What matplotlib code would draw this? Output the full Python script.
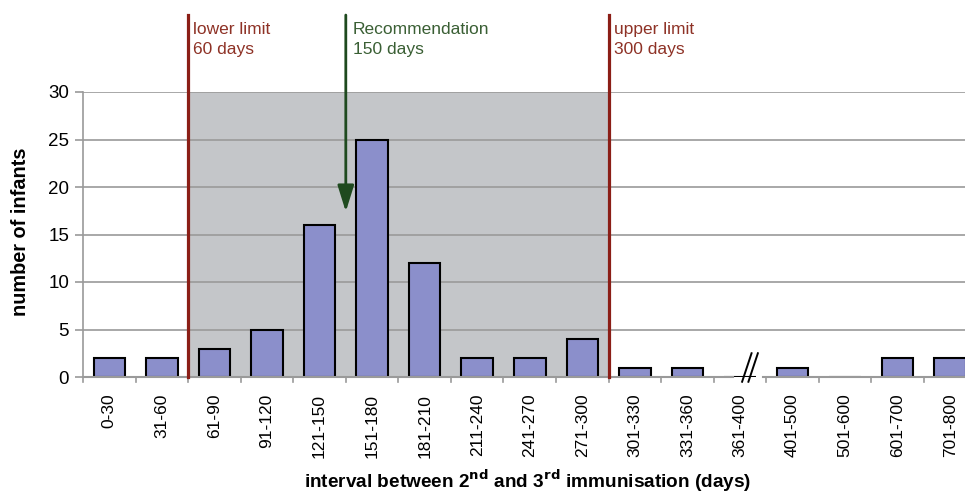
import matplotlib.pyplot as plt

# categories and counts
categories = ['0-30', '31-60', '61-90', '91-120', '121-150', '151-180', '181-210',
              '211-240', '241-270', '271-300', '301-330', '331-360', '361-400',
              '401-500', '501-600', '601-700', '701-800']
infants = [2, 2, 3, 5, 16, 25, 12, 2, 2, 4, 1, 1, 0, 1, 0, 2, 2]
yticks = [0, 5, 10, 15, 20, 25, 30]

red = '#8b1e16'
red_txt = '#8e3226'
green = '#1f4a1f'
green_txt = '#3a5f34'
grey = '#9a9a9a'

plt.rcParams['font.family'] = ['Liberation Sans', 'DejaVu Sans']

fig = plt.figure(figsize=(9.65, 4.97), dpi=100)
ax = fig.add_axes([83 / 965, 1 - 377 / 497, 882 / 965, 285 / 497])
x = list(range(len(categories)))
ax.set_xlim(-0.5, -0.5 + 882 / 52.56)
ax.set_ylim(0, 30)

# shaded recommended window and grid
ax.axvspan(1.5, 9.5, color='#c4c6c9', zorder=0, lw=0)
for t in yticks[1:]:
    ax.axhline(t, color=grey, lw=1.2, zorder=0.5)

ax.bar(x, infants, width=0.6, color='#8b8fcb', edgecolor='black', lw=1.5, zorder=2)

# spines and ticks
for s in ['top', 'right', 'bottom']:
    ax.spines[s].set_visible(False)
ax.spines['left'].set_color(grey)
ax.spines['left'].set_linewidth(1.2)
ax.set_yticks(yticks)
ax.set_yticklabels([str(t) for t in yticks], fontsize=13.5)
ax.set_xticks(x)
ax.set_xticklabels(categories, rotation=90, fontsize=12.5)
ax.tick_params(axis='x', length=0, pad=12)
ax.tick_params(axis='y', length=6, color=grey, width=1.2, pad=4)

# bottom axis line with break
ax.plot([-0.5, 11.87], [0, 0], color=grey, lw=1.5, clip_on=False, zorder=3)
ax.plot([12.44, 16.3], [0, 0], color=grey, lw=1.5, clip_on=False, zorder=3)
for b in [k + 0.5 for k in range(-1, 17)]:
    ax.plot([b, b], [0, -0.55], color=grey, lw=1.2, clip_on=False)
ax.plot([12.04, 12.22], [-0.5, 2.5], color='black', lw=1.4, clip_on=False, zorder=3)
ax.plot([12.16, 12.34], [-0.5, 2.5], color='black', lw=1.4, clip_on=False, zorder=3)

# limits and recommendation
top = 38.1
for xv in [1.5, 9.5]:
    ax.plot([xv, xv], [0, top], color=red, lw=2.3, clip_on=False, zorder=4)
ax.annotate('', xy=(4.5, 17.4), xytext=(4.5, top), annotation_clip=False,
            arrowprops=dict(arrowstyle='-|>,head_length=1.6,head_width=0.5',
                            color=green, lw=2, shrinkA=0, shrinkB=0))
ax.text(1.6, 37.4, 'lower limit\n60 days', color=red_txt, fontsize=12.5,
        va='top', ha='left', linespacing=1.45)
ax.text(4.63, 37.4, 'Recommendation\n150 days', color=green_txt, fontsize=12.5,
        va='top', ha='left', linespacing=1.45)
ax.text(9.6, 37.4, 'upper limit\n300 days', color=red_txt, fontsize=12.5,
        va='top', ha='left', linespacing=1.45)

fig.text(21 / 965, 1 - 232 / 497, 'number of infants', fontsize=14.3,
         fontweight='bold', rotation=90, ha='center', va='center')
fig.text(528 / 965, 1 - 494 / 497,
         'interval between 2$^{\\mathbf{nd}}$ and 3$^{\\mathbf{rd}}$ immunisation (days)',
         fontsize=13.7, fontweight='bold', ha='center', va='bottom')

fig.savefig('out.png', dpi=100)
